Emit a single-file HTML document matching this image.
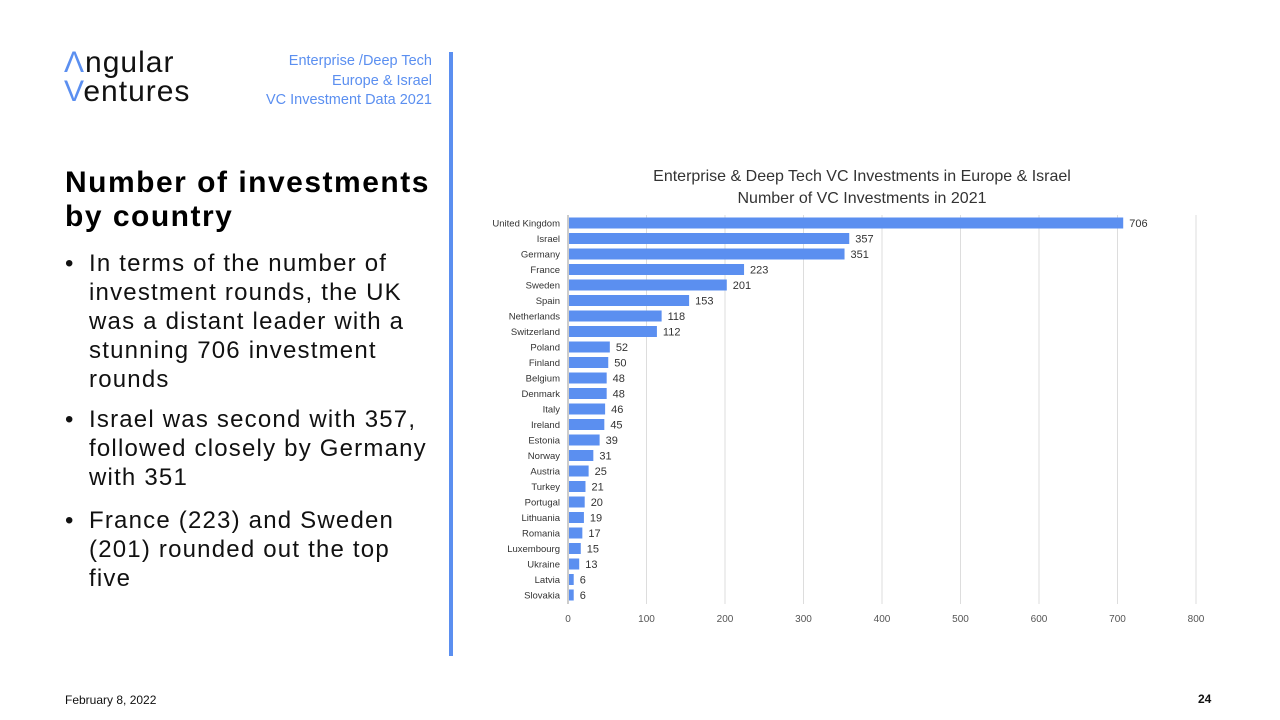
<!DOCTYPE html>
<html><head><meta charset="utf-8"><style>
body{margin:0;width:1280px;height:720px;background:#fff;font-family:"Liberation Sans",sans-serif;position:relative;overflow:hidden}
.a{position:absolute;white-space:nowrap}
.b{position:absolute;left:0}
.b span{position:absolute;left:24px;top:0}
</style></head><body>
<div class="a" style="left:64px;top:48px;font-size:30px;line-height:29px;color:#111;letter-spacing:1px"><span style="color:#5b8ff0">Λ</span>ngular<br><span style="color:#5b8ff0">V</span>entures</div>
<div class="a" style="right:848px;top:52px;text-align:right;font-size:14.5px;line-height:19.5px;color:#5b8ff0">Enterprise /Deep Tech<br>Europe &amp; Israel<br>VC Investment Data 2021</div>
<div class="a" style="left:449px;top:52px;width:4px;height:604px;background:#5b8ff0"></div>
<div class="a" style="left:65px;top:166px;font-size:30px;line-height:34px;font-weight:bold;color:#000;letter-spacing:1.5px">Number of investments<br>by country</div>
<div class="a" style="left:65px;top:249px;font-size:24px;line-height:29px;color:#111;letter-spacing:1.2px">
<div class="b" style="top:0">•<span>In terms of the number of<br>investment rounds, the UK<br>was a distant leader with a<br>stunning 706 investment<br>rounds</span></div>
<div class="b" style="top:156px">•<span>Israel was second with 357,<br>followed closely by Germany<br>with 351</span></div>
<div class="b" style="top:257px">•<span>France (223) and Sweden<br>(201) rounded out the top<br>five</span></div>
</div>
<div class="a" style="left:65px;top:693px;font-size:12px;color:#111">February 8, 2022</div>
<div class="a" style="left:1198px;top:692px;font-size:12px;font-weight:bold;color:#111">24</div>
<svg id="chart" width="1280" height="720" style="position:absolute;left:0;top:0" xmlns="http://www.w3.org/2000/svg">
<text x="862" y="181" text-anchor="middle" font-size="16" fill="#333">Enterprise &amp; Deep Tech VC Investments in Europe &amp; Israel</text>
<text x="862" y="203" text-anchor="middle" font-size="16" fill="#333">Number of VC Investments in 2021</text>
</svg>
<script>
const countries=["United Kingdom","Israel","Germany","France","Sweden","Spain","Netherlands","Switzerland","Poland","Finland","Belgium","Denmark","Italy","Ireland","Estonia","Norway","Austria","Turkey","Portugal","Lithuania","Romania","Luxembourg","Ukraine","Latvia","Slovakia"];
const values=[706,357,351,223,201,153,118,112,52,50,48,48,46,45,39,31,25,21,20,19,17,15,13,6,6];
const ticks=[0,100,200,300,400,500,600,700,800];
const svg=document.getElementById('chart');
const NS="http://www.w3.org/2000/svg";
const x=v=>568+v*(1196-568)/800;
const y=i=>223+i*15.5;
function mk(t,a){const e=document.createElementNS(NS,t);for(const k in a)e.setAttribute(k,a[k]);svg.appendChild(e);return e;}
ticks.forEach(t=>{
 const g=mk('line',{x1:x(t),x2:x(t),y1:215,y2:604,stroke:t===0?'#999':'#ddd','stroke-width':1});
 
 
 const l=mk('text',{x:x(t),y:622,'text-anchor':'middle','font-size':10,fill:'#555'});
 l.textContent=t;
 
 
});
countries.forEach((c,i)=>{
 const b=mk('rect',{x:x(0)+1,y:y(i)-5.5,width:x(values[i])-x(0),height:11,fill:'#5b8ff0'});
 
 
 const l=mk('text',{x:560,y:y(i)+3.5,'text-anchor':'end','font-size':9.5,fill:'#333'});
 l.textContent=c;
 
 
 const v=mk('text',{x:x(values[i])+7,y:y(i)+4,'font-size':11,fill:'#333'});
 v.textContent=values[i];
 
 
});
</script>
</body></html>
